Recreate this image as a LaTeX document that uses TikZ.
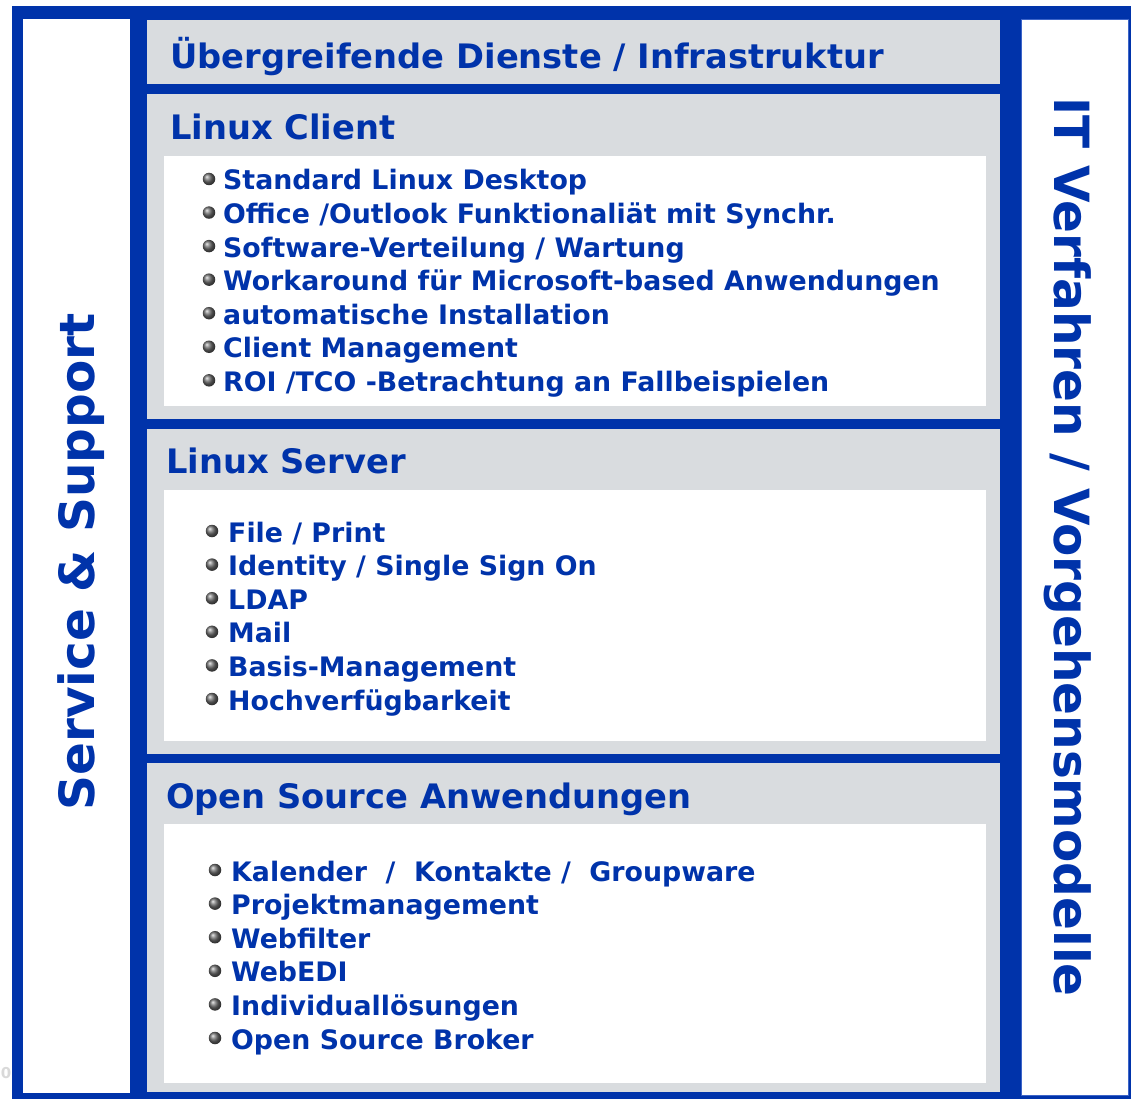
\documentclass[tikz,border=0pt]{standalone}
\usepackage{fontspec}
\setmainfont{DejaVu Sans}
\definecolor{myblue}{RGB}{0,51,170}
\definecolor{mygray}{RGB}{217,220,223}
\definecolor{edgeblue}{RGB}{60,100,200}
\tikzset{
  hdr/.style={anchor=base west, inner sep=0pt, text=myblue, font=\fontsize{33.7}{33.7}\selectfont\bfseries},
  itm/.style={anchor=base west, inner sep=0pt, text=myblue, font=\fontsize{26.8}{26.8}\selectfont\bfseries},
  vert/.style={anchor=base, inner sep=0pt, text=myblue, font=\fontsize{48.5}{48.5}\selectfont\bfseries},
  bul/.style={circle, inner sep=0pt, minimum size=12.5pt, shading=ball, ball color=gray!85!black},
  graybox/.style={fill=mygray},
  whitebox/.style={fill=white},
}
\begin{document}
\begin{tikzpicture}[x=1pt,y=-1pt]
\useasboundingbox (0,0) rectangle (1131,1099);
% outer blue frame
\fill[myblue] (12,6) rectangle (1131,1099);
% side panels
\fill[white] (23,19) rectangle (130,1093);
\filldraw[fill=white, draw=edgeblue, line width=1pt] (1021.5,19.5) rectangle (1128.5,1095.5);
% top box
\fill[graybox] (147,20) rectangle (1000,84);
% client
\fill[graybox] (147,94) rectangle (1000,419);
\fill[whitebox] (164,156) rectangle (986,406);
% server
\fill[graybox] (147,429) rectangle (1000,754);
\fill[whitebox] (164,490) rectangle (986,741);
% OSA
\fill[graybox] (147,763) rectangle (1000,1092);
\fill[whitebox] (164,824) rectangle (986,1083);

% headers
\node[hdr] (h0) at (170,69) {Übergreifende Dienste / Infrastruktur};
\node[hdr] (h1) at (170,140) {Linux Client};
\node[hdr] (h2) at (166,473) {Linux Server};
\node[hdr] (h3) at (166,808) {Open Source Anwendungen};

% client items
\foreach \t [count=\i from 0] in {Standard Linux Desktop,
  Office /Outlook Funktionaliät mit Synchr.,
  Software-Verteilung / Wartung,
  Workaround für Microsoft-based Anwendungen,
  automatische Installation,
  Client Management,
  ROI /TCO -Betrachtung an Fallbeispielen}{
  \node[bul] (cb\i) at (209,{179+33.55*\i}) {};
  \node[itm] (ct\i) at (223,{190+33.55*\i}) {\t};
}
% server items
\foreach \t [count=\i from 0] in {File / Print,
  Identity / Single Sign On,
  LDAP, Mail, Basis-Management, Hochverfügbarkeit}{
  \node[bul] (sb\i) at (212,{531+33.6*\i}) {};
  \node[itm] (st\i) at (228,{542+33.6*\i}) {\t};
}
% OSA items
\foreach \t [count=\i from 0] in {Kalender~~/~~Kontakte /~~Groupware,
  Projektmanagement, Webfilter, WebEDI, Individuallösungen, Open Source Broker}{
  \node[bul] (ob\i) at (215,{870+33.6*\i}) {};
  \node[itm] (ot\i) at (231,{881+33.6*\i}) {\t};
}

% vertical titles
\node[vert, rotate=90] (ss) at (94,562) {Service \& Support};
\node[vert, rotate=-90] (it) at (1054,547) {IT Verfahren / Vorgehensmodelle};

% stray mark
\node[anchor=base, inner sep=0pt, text=gray!30, font=\fontsize{15}{15}\selectfont\bfseries] (zero) at (6,1078) {0};
\end{tikzpicture}
\end{document}
